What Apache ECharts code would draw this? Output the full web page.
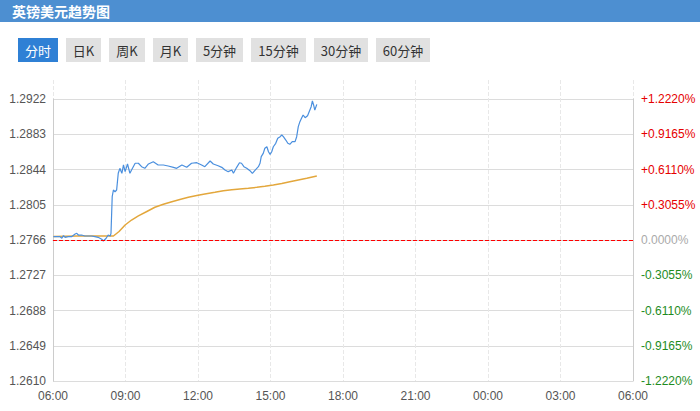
<!DOCTYPE html>
<html><head><meta charset="utf-8">
<script src="https://cdn.jsdelivr.net/npm/echarts@6/dist/echarts.min.js"></script>
<style>html,body{margin:0;padding:0;background:#fff}#c{width:700px;height:411px}</style>
</head><body><div id="c"></div>
<script>
const title = '英镑美元趋势图';
const tabs = ['分时','日K','周K','月K','5分钟','15分钟','30分钟','60分钟'];
const base = 1.2766;
const xLabels = ['06:00','09:00','12:00','15:00','18:00','21:00','00:00','03:00','06:00'];
const leftLabels = ['1.2610','1.2649','1.2688','1.2727','1.2766','1.2805','1.2844','1.2883','1.2922'];
const rightLabels = ['-1.2220%','-0.9165%','-0.6110%','-0.3055%','0.0000%','+0.3055%','+0.6110%','+0.9165%','+1.2220%'];

const times = ['06:01','06:05','06:17','06:22','06:26','06:30','06:38','06:46','06:55','06:59','07:03','07:11','07:19','07:28','07:36','07:44','07:52','08:01','08:05','08:12','08:17','08:22','08:24',
'08:27','08:30','08:34','08:38','08:42','08:46','08:51','08:55','08:59','09:05','09:11','09:15','09:24','09:32','09:40','09:48','09:57','10:09','10:21','10:34','10:46','10:59','11:07','11:20','11:32','11:44','11:57','12:09','12:17','12:30',
'12:38','12:50','12:59','13:07','13:15','13:24','13:28','13:36','13:43','13:48','13:54','14:01','14:09','14:15','14:22','14:30','14:34','14:37','14:42','14:46','14:51','14:55','14:59','15:03','15:07','15:13','15:18','15:24','15:28','15:32','15:38','15:43','15:48','15:54','16:01','16:05','16:09','16:13','16:17','16:21','16:26','16:32','16:36','16:41','16:44','16:47','16:50','16:55'];
const price = [1.27697,1.27697,1.27697,1.27679,1.27708,1.27690,1.27697,1.27697,1.27726,1.27734,1.27715,1.27715,1.27704,1.27704,1.27704,1.27697,1.27690,1.27668,1.27649,1.27679,1.27715,1.27704,1.27734,
1.28139,1.28213,1.28194,1.28213,1.28398,1.28453,1.28398,1.28490,1.28416,1.28501,1.28398,1.28434,1.28509,1.28509,1.28471,1.28453,1.28501,1.28526,1.28490,1.28490,1.28479,1.28464,1.28453,1.28490,1.28464,1.28509,1.28515,1.28490,1.28471,1.28534,
1.28501,1.28482,1.28464,1.28434,1.28416,1.28434,1.28398,1.28464,1.28515,1.28509,1.28471,1.28453,1.28427,1.28398,1.28434,1.28471,1.28509,1.28582,1.28619,1.28675,1.28692,1.28637,1.28608,1.28637,1.28692,1.28730,1.28785,1.28803,1.28822,1.28803,1.28766,1.28730,1.28719,1.28748,1.28748,1.28803,1.28914,1.28969,1.29007,1.29043,1.29013,1.29035,1.29080,1.29135,1.29198,1.29154,1.29098,1.29161];

const avgTimes = ['06:01','07:00','08:00','08:30','08:44','08:59','09:15','09:32','09:53','10:13','10:34','10:55','11:15','11:36','11:57','12:17','12:42','13:03','13:24','13:44','14:05','14:26','14:46','15:07','15:28','15:48','16:09','16:30','16:55'];
const avgPrice = [1.27699,1.27704,1.27704,1.27704,1.27754,1.27826,1.27881,1.27926,1.27975,1.28022,1.28055,1.28084,1.28108,1.28132,1.28152,1.28169,1.28188,1.28205,1.28215,1.28224,1.28233,1.28243,1.28254,1.28268,1.28285,1.28305,1.28324,1.28343,1.28368];

function toMin(t){const [h,m]=t.split(':').map(Number);let v=(h-6)*60+m;if(v<0)v+=1440;return v;}
function toBp(p){return (p-base)/base*1e6;}
const lineData = times.map((t,i)=>[toMin(t), toBp(price[i])]);
const avgData = avgTimes.map((t,i)=>[toMin(t), toBp(avgPrice[i])]);

const YMIN=-12220, YMAX=12220, YINT=3055;
function yIdx(v){return Math.round((v-YMIN)/YINT);}

const font = 'Liberation Sans, Arial, sans-serif';
const cjk = '"Noto Sans CJK SC", sans-serif';
const tabX=[18,66,109,153,196,251,314,376], tabW=[40,35,36,35,47,55,54,54];
const graphics = [
  {type:'rect', shape:{x:0,y:0,width:700,height:22}, style:{fill:'#4d8fd1'}, silent:true},
  {type:'text', style:{text:title, x:12, y:11, fill:'#fff', font:'bold 14px '+cjk, textVerticalAlign:'middle'}, silent:true}
];
tabs.forEach((t,i)=>{
  graphics.push({type:'rect', shape:{x:tabX[i],y:38,width:tabW[i],height:24}, style:{fill:i===0?'#2f80d5':'#e1e1e1'}, silent:true});
  graphics.push({type:'text', style:{text:t, x:tabX[i]+tabW[i]/2, y:50, fill:i===0?'#fff':'#333', font:'13px '+cjk, textAlign:'center', textVerticalAlign:'middle'}, silent:true});
});

const chart = echarts.init(document.getElementById('c'), null, {renderer:'svg'});
chart.setOption({
  animation:false,
  backgroundColor:'#fff',
  graphic: graphics,
  grid:[
    {left:53, right:67, top:99, bottom:30},
    {left:53, right:67, top:80, bottom:30}
  ],
  xAxis:[
    {gridIndex:0, type:'value', min:0, max:1440, interval:180,
     axisLine:{show:true, lineStyle:{color:'#cccccc'}}, axisTick:{show:false}, splitLine:{show:false},
     axisLabel:{color:'#555', fontSize:12, fontFamily:font, margin:9, formatter:(v)=>xLabels[Math.round(v/180)]}},
    {gridIndex:1, type:'value', min:0, max:1440, interval:180,
     axisLine:{show:false}, axisTick:{show:false}, axisLabel:{show:false},
     splitLine:{show:true, lineStyle:{color:'#e8e8e8', type:'dashed', width:1}}}
  ],
  yAxis:[
    {gridIndex:0, type:'value', position:'left', min:YMIN, max:YMAX, interval:YINT,
     axisLine:{show:true, lineStyle:{color:'#cccccc'}}, axisTick:{show:false},
     splitLine:{show:true, lineStyle:{color:'#dcdcdc', width:1}},
     axisLabel:{color:'#555', fontSize:12, fontFamily:font, margin:7, formatter:(v)=>leftLabels[yIdx(v)]}},
    {gridIndex:0, type:'value', position:'right', min:YMIN, max:YMAX, interval:YINT,
     axisLine:{show:true, lineStyle:{color:'#cccccc'}}, axisTick:{show:false}, splitLine:{show:false},
     axisLabel:{fontSize:12, fontFamily:font, margin:8,
       formatter:(v)=>rightLabels[yIdx(v)],
       color:(v)=>{const i=yIdx(Number(v));return i>4?'#e60000':(i<4?'#1e8c1e':'#aaaaaa');}}},
    {gridIndex:1, type:'value', min:0, max:1, show:false}
  ],
  series:[
    {type:'line', xAxisIndex:0, yAxisIndex:0, data:avgData, showSymbol:false, symbol:'none',
     lineStyle:{color:'#e3a73c', width:1.5}, z:3},
    {type:'line', xAxisIndex:0, yAxisIndex:0, data:lineData, showSymbol:false, symbol:'none',
     lineStyle:{color:'#4a8fde', width:1.2}, z:4,
     markLine:{silent:true, symbol:'none', label:{show:false},
       lineStyle:{color:'#ff0000', type:'dashed', width:1}, data:[{yAxis:0}]}},
    {type:'line', xAxisIndex:1, yAxisIndex:2, data:[], showSymbol:false}
  ]
});
</script></body></html>
